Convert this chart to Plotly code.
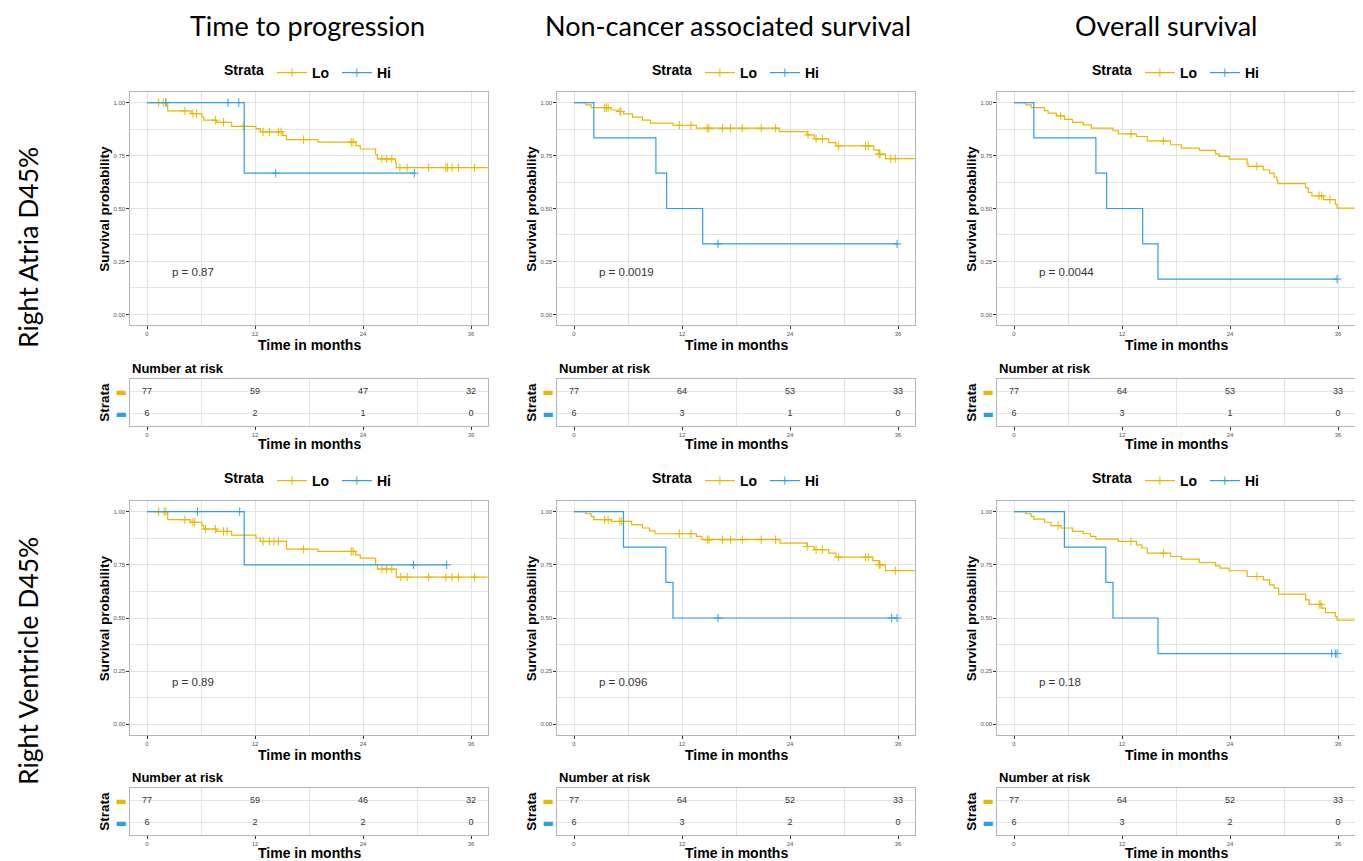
import numpy as np
import plotly.graph_objects as go

# page has an 8px body margin: figure is sized so that it fills the window exactly
OFF = 8
W, H = 1363 - OFF, 861 - OFF
LO_COLOR = "#E7B800"
HI_COLOR = "#2E9FDF"
GRID = "#E3E3E3"
BORDER = "#B5B5B5"
FONT = "Liberation Sans, Arial, sans-serif"
TITLE_FONT = "Lato, Open Sans, sans-serif"

col_titles = ["Time to progression", "Non-cancer associated survival", "Overall survival"]
row_titles = ["Right Atria D45%", "Right Ventricle D45%"]
strata = ["Lo", "Hi"]
time_ticks = [0, 12, 24, 36]
surv_ticks = [0.0, 0.25, 0.5, 0.75, 1.0]

# ---------------- Right Atria D45% : Time to progression ----------------
ra_ttp_lo_t = [0, 2.3, 4.9, 6.1, 6.3, 7.7, 9.4, 12.1, 12.6, 15.1, 15.5, 19.0, 23.2, 23.7, 25.4, 25.6, 27.6, 27.7]
ra_ttp_lo_s = [1.0, 0.961, 0.948, 0.932, 0.917, 0.907, 0.888, 0.877, 0.862, 0.845, 0.825, 0.813, 0.797, 0.781, 0.755, 0.734, 0.715, 0.693]
ra_ttp_lo_end = 38.0
ra_ttp_lo_cens = [1.3, 1.8, 2.1, 4.2, 5.1, 5.5, 7.6, 8.5, 10.7, 12.9, 13.6, 14.6, 14.9, 17.4, 22.7, 22.9,
                  26.1, 26.6, 27.2, 28.1, 28.9, 31.3, 33.2, 33.4, 33.9, 34.6, 36.4]
ra_ttp_hi_t = [0, 10.8]
ra_ttp_hi_s = [1.0, 0.667]
ra_ttp_hi_end = 29.7
ra_ttp_hi_cens = [2.1, 9.0, 10.2, 14.3, 29.7]
ra_ttp_p = "p = 0.87"
ra_ttp_risk_lo = [77, 59, 47, 32]
ra_ttp_risk_hi = [6, 2, 1, 0]

# ---------------- Right Atria D45% : Non-cancer associated survival ----------------
ra_ncas_lo_t = [0, 1.3, 1.9, 4.1, 4.9, 5.5, 6.5, 7.6, 8.5, 11.0, 13.6, 22.8, 25.9, 26.7, 28.3, 29.1, 33.3, 33.9, 34.6]
ra_ncas_lo_s = [1.0, 0.989, 0.976, 0.965, 0.958, 0.947, 0.931, 0.917, 0.903, 0.893, 0.879, 0.863, 0.848, 0.829,
                0.811, 0.796, 0.777, 0.757, 0.735]
ra_ncas_lo_end = 38.0
ra_ncas_lo_cens = [3.4, 3.6, 3.8, 5.1, 5.2, 11.7, 13.0, 14.8, 15.0, 16.5, 17.4, 18.7, 20.8, 22.4, 26.0, 26.9,
                   27.6, 29.4, 32.4, 32.7, 33.9, 34.0, 35.2, 35.7]
ra_ncas_hi_t = [0, 2.2, 9.1, 10.3, 14.3]
ra_ncas_hi_s = [1.0, 0.833, 0.667, 0.5, 0.333]
ra_ncas_hi_end = 35.9
ra_ncas_hi_cens = [16.0, 35.9]
ra_ncas_p = "p = 0.0019"
ra_ncas_risk_lo = [77, 64, 53, 33]
ra_ncas_risk_hi = [6, 3, 1, 0]

# ---------------- Right Atria D45% : Overall survival ----------------
ra_os_lo_t = [0, 1.3, 1.9, 3.4, 3.8, 4.7, 5.6, 6.5, 7.7, 8.6, 11.0, 11.6, 13.6, 14.8, 17.4, 18.6, 20.6, 22.4,
              22.8, 23.9, 25.9, 26.0, 27.7, 28.4, 28.9, 29.2, 29.3, 32.4, 32.7, 33.1, 34.4, 35.7, 35.9]
ra_os_lo_s = [1.0, 0.989, 0.976, 0.962, 0.950, 0.937, 0.921, 0.907, 0.895, 0.879, 0.867, 0.852, 0.840, 0.819,
              0.801, 0.785, 0.774, 0.758, 0.746, 0.733, 0.714, 0.699, 0.683, 0.667, 0.648, 0.633, 0.617, 0.597,
              0.576, 0.560, 0.542, 0.521, 0.502]
ra_os_lo_end = 38.0
ra_os_lo_cens = [5.2, 13.0, 16.6, 27.0, 33.9, 34.2, 35.1]
ra_os_hi_t = [0, 2.2, 9.1, 10.3, 14.3, 16.0]
ra_os_hi_s = [1.0, 0.833, 0.667, 0.5, 0.333, 0.167]
ra_os_hi_end = 35.9
ra_os_hi_cens = [35.9]
ra_os_p = "p = 0.0044"
ra_os_risk_lo = [77, 64, 53, 33]
ra_os_risk_hi = [6, 3, 1, 0]

# ---------------- Right Ventricle D45% : Time to progression ----------------
rv_ttp_lo_t = [0, 2.3, 4.8, 6.1, 6.3, 7.7, 9.4, 12.1, 12.6, 15.5, 19.0, 23.2, 23.7, 25.4, 25.6, 27.7]
rv_ttp_lo_s = [1.0, 0.962, 0.950, 0.934, 0.918, 0.907, 0.890, 0.876, 0.860, 0.824, 0.813, 0.797, 0.781, 0.750,
               0.730, 0.692]
rv_ttp_lo_end = 38.0
rv_ttp_lo_cens = [1.3, 1.9, 2.1, 4.2, 5.1, 5.3, 6.5, 7.6, 8.5, 8.9, 12.9, 13.6, 14.1, 14.6, 17.4, 22.7, 22.9,
                  26.1, 26.6, 27.2, 28.2, 28.9, 31.3, 33.2, 33.9, 34.6, 36.4]
rv_ttp_hi_t = [0, 10.8]
rv_ttp_hi_s = [1.0, 0.75]
rv_ttp_hi_end = 33.3
rv_ttp_hi_cens = [5.6, 10.3, 29.6, 33.3]
rv_ttp_p = "p = 0.89"
rv_ttp_risk_lo = [77, 59, 46, 32]
rv_ttp_risk_hi = [6, 2, 2, 0]

# ---------------- Right Ventricle D45% : Non-cancer associated survival ----------------
rv_ncas_lo_t = [0, 1.3, 1.9, 2.2, 4.1, 6.4, 7.6, 8.4, 9.0, 13.6, 14.2, 22.9, 25.9, 26.7, 28.3, 29.1, 33.2, 33.9, 34.6]
rv_ncas_lo_s = [1.0, 0.990, 0.978, 0.962, 0.954, 0.939, 0.923, 0.910, 0.896, 0.884, 0.868, 0.852, 0.836, 0.821,
                0.805, 0.786, 0.770, 0.750, 0.723]
rv_ncas_lo_end = 38.0
rv_ncas_lo_cens = [3.4, 3.8, 5.1, 5.3, 11.7, 13.0, 14.8, 15.0, 16.5, 17.4, 18.7, 20.8, 22.4, 25.9, 26.9, 27.6,
                   29.4, 32.4, 32.7, 33.9, 34.0, 35.7]
rv_ncas_hi_t = [0, 5.5, 10.2, 11.0]
rv_ncas_hi_s = [1.0, 0.833, 0.667, 0.5]
rv_ncas_hi_end = 35.9
rv_ncas_hi_cens = [16.0, 35.3, 35.9]
rv_ncas_p = "p = 0.096"
rv_ncas_risk_lo = [77, 64, 52, 33]
rv_ncas_risk_hi = [6, 3, 2, 0]

# ---------------- Right Ventricle D45% : Overall survival ----------------
rv_os_lo_t = [0, 1.3, 1.9, 2.2, 3.4, 4.1, 5.2, 6.5, 7.7, 8.5, 9.1, 11.6, 13.6, 14.2, 14.8, 17.4, 18.6, 20.6,
              22.4, 22.9, 23.9, 25.9, 27.7, 28.4, 28.9, 29.4, 32.4, 32.8, 34.2, 34.6, 35.7, 35.9]
rv_os_lo_s = [1.0, 0.990, 0.978, 0.965, 0.950, 0.934, 0.923, 0.907, 0.896, 0.884, 0.871, 0.860, 0.844, 0.829,
              0.805, 0.789, 0.777, 0.761, 0.745, 0.734, 0.722, 0.695, 0.679, 0.656, 0.640, 0.612, 0.585, 0.564,
              0.546, 0.525, 0.506, 0.490]
rv_os_lo_end = 38.0
rv_os_lo_cens = [4.9, 13.0, 16.6, 27.0, 33.9, 34.1]
rv_os_hi_t = [0, 5.6, 10.2, 11.0, 16.0]
rv_os_hi_s = [1.0, 0.833, 0.667, 0.5, 0.333]
rv_os_hi_end = 35.9
rv_os_hi_cens = [35.3, 35.7, 35.9]
rv_os_p = "p = 0.18"
rv_os_risk_lo = [77, 64, 52, 33]
rv_os_risk_hi = [6, 3, 2, 0]

panels = [
    dict(row=0, col=0, lo=(ra_ttp_lo_t, ra_ttp_lo_s, ra_ttp_lo_end, ra_ttp_lo_cens),
         hi=(ra_ttp_hi_t, ra_ttp_hi_s, ra_ttp_hi_end, ra_ttp_hi_cens), p=ra_ttp_p,
         risk=(ra_ttp_risk_lo, ra_ttp_risk_hi)),
    dict(row=0, col=1, lo=(ra_ncas_lo_t, ra_ncas_lo_s, ra_ncas_lo_end, ra_ncas_lo_cens),
         hi=(ra_ncas_hi_t, ra_ncas_hi_s, ra_ncas_hi_end, ra_ncas_hi_cens), p=ra_ncas_p,
         risk=(ra_ncas_risk_lo, ra_ncas_risk_hi)),
    dict(row=0, col=2, lo=(ra_os_lo_t, ra_os_lo_s, ra_os_lo_end, ra_os_lo_cens),
         hi=(ra_os_hi_t, ra_os_hi_s, ra_os_hi_end, ra_os_hi_cens), p=ra_os_p,
         risk=(ra_os_risk_lo, ra_os_risk_hi)),
    dict(row=1, col=0, lo=(rv_ttp_lo_t, rv_ttp_lo_s, rv_ttp_lo_end, rv_ttp_lo_cens),
         hi=(rv_ttp_hi_t, rv_ttp_hi_s, rv_ttp_hi_end, rv_ttp_hi_cens), p=rv_ttp_p,
         risk=(rv_ttp_risk_lo, rv_ttp_risk_hi)),
    dict(row=1, col=1, lo=(rv_ncas_lo_t, rv_ncas_lo_s, rv_ncas_lo_end, rv_ncas_lo_cens),
         hi=(rv_ncas_hi_t, rv_ncas_hi_s, rv_ncas_hi_end, rv_ncas_hi_cens), p=rv_ncas_p,
         risk=(rv_ncas_risk_lo, rv_ncas_risk_hi)),
    dict(row=1, col=2, lo=(rv_os_lo_t, rv_os_lo_s, rv_os_lo_end, rv_os_lo_cens),
         hi=(rv_os_hi_t, rv_os_hi_s, rv_os_hi_end, rv_os_hi_cens), p=rv_os_p,
         risk=(rv_os_risk_lo, rv_os_risk_hi)),
]

# ---------------- layout geometry (screen pixels) ----------------
X_RANGE = [-1.85, 37.85]
PX_PER_MONTH = 9.0
col_x0 = [147, 574, 1014]          # screen pixel of t = 0 in each column
surv_top = [92, 501]
surv_bot = [325, 735]
risk_top = [379, 788]
risk_bot = [426, 835]
legend_y = [73, 481]
legend_x = [312, 740, 1180]
col_title_x = [307, 728, 1166]
row_title_y = [248, 661]


def fx(p):
    return (p - OFF) / W


def fy(p):
    return 1 - (p - OFF) / H


def step_value(t, s, x):
    idx = np.searchsorted(np.asarray(t), np.asarray(x), side="right") - 1
    return np.asarray(s)[idx]


fig = go.Figure()
layout = dict(
    width=W, height=H, margin=dict(l=0, r=0, t=0, b=0),
    paper_bgcolor="white", plot_bgcolor="white",
    showlegend=True, font=dict(family=FONT, color="black"),
)
annotations = []
CENS_MARK = dict(symbol="cross-thin", size=6)

for k, p in enumerate(panels):
    r, c = p["row"], p["col"]
    sx = "" if k == 0 else str(k + 1)
    rk = str(k + 7)
    xa, ya = "x" + sx, "y" + sx
    xr, yr = "x" + rk, "y" + rk
    legname = "legend" + sx

    left = col_x0[c] + X_RANGE[0] * PX_PER_MONTH
    right = col_x0[c] + X_RANGE[1] * PX_PER_MONTH
    xdom = [fx(left), fx(right)]

    # --- survival curves ---
    for (t, s, end, cens), name, color in [(p["lo"], "Lo", LO_COLOR), (p["hi"], "Hi", HI_COLOR)]:
        fig.add_trace(go.Scatter(
            x=list(t) + [end], y=list(s) + [s[-1]], mode="lines", line_shape="hv",
            line=dict(color=color, width=1.2), xaxis=xa, yaxis=ya, showlegend=False,
            hoverinfo="skip"))
        fig.add_trace(go.Scatter(
            x=cens, y=step_value(t, s, cens), mode="markers",
            marker=dict(**CENS_MARK, line=dict(color=color, width=1)),
            xaxis=xa, yaxis=ya, showlegend=False, hoverinfo="skip"))
    # legend entries
    for name, color in [("Lo", LO_COLOR), ("Hi", HI_COLOR)]:
        fig.add_trace(go.Scatter(
            x=[None], y=[None], mode="lines+markers", name="<b>" + name + "</b>",
            line=dict(color=color, width=1.2),
            marker=dict(**CENS_MARK, line=dict(color=color, width=1)),
            xaxis=xa, yaxis=ya, legend=legname, showlegend=True))

    layout[legname] = dict(
        orientation="h", x=fx(legend_x[c]), y=fy(legend_y[r]), xanchor="center", yanchor="middle",
        title=dict(text="<b>Strata</b>", side="left", font=dict(size=14, family=FONT, color="black")),
        font=dict(size=14, family=FONT, color="black"), bgcolor="rgba(0,0,0,0)",
        itemwidth=30, tracegroupgap=0, entrywidth=20, itemclick=False)

    layout["xaxis" + sx] = dict(
        domain=xdom, anchor=ya, range=X_RANGE, tickmode="array", tickvals=time_ticks,
        ticks="outside", ticklen=3, tickwidth=1, tickcolor="#333333",
        tickfont=dict(size=6, color="#555555", family=FONT),
        showgrid=True, gridcolor=GRID, gridwidth=1,
        minor=dict(tickmode="array", tickvals=[6, 18, 30], showgrid=True, gridcolor=GRID, gridwidth=1, ticks=""),
        showline=True, linecolor=BORDER, linewidth=1, mirror=True, zeroline=False, fixedrange=True)
    layout["yaxis" + sx] = dict(
        domain=[fy(surv_bot[r]), fy(surv_top[r])], anchor=xa, range=[-0.05, 1.05],
        tickmode="array", tickvals=surv_ticks, tickformat=".2f",
        ticks="outside", ticklen=3, tickwidth=1, tickcolor="#333333",
        tickfont=dict(size=6, color="#555555", family=FONT),
        showgrid=True, gridcolor=GRID, gridwidth=1.3,
        minor=dict(tickmode="array", tickvals=[0.125, 0.375, 0.625, 0.875], showgrid=True,
                   gridcolor=GRID, gridwidth=1, ticks=""),
        showline=True, linecolor=BORDER, linewidth=1, mirror=True, zeroline=False, fixedrange=True)

    # p-value
    annotations.append(dict(text=p["p"], x=2.6, y=0.2, xref=xa, yref=ya, xanchor="left", yanchor="middle",
                            showarrow=False, font=dict(size=11.5, color="#333333", family=FONT)))

    # --- risk table ---
    risk_lo, risk_hi = p["risk"]
    for vals, yv in [(risk_lo, 1), (risk_hi, 0)]:
        fig.add_trace(go.Scatter(
            x=time_ticks, y=[yv] * len(time_ticks), mode="text", text=[str(v) for v in vals],
            textfont=dict(size=9, color="#333333", family=FONT), textposition="middle center",
            xaxis=xr, yaxis=yr, showlegend=False, hoverinfo="skip"))
    layout["xaxis" + rk] = dict(
        domain=xdom, anchor=yr, range=X_RANGE, tickmode="array", tickvals=time_ticks,
        ticks="outside", ticklen=3, tickwidth=1, tickcolor="#333333",
        tickfont=dict(size=6, color="#555555", family=FONT),
        showgrid=False,
        minor=dict(tickmode="array", tickvals=[6, 18, 30], showgrid=True, gridcolor=GRID, gridwidth=1, ticks=""),
        showline=True, linecolor=BORDER, linewidth=1, mirror=True, zeroline=False, fixedrange=True)
    layout["yaxis" + rk] = dict(
        domain=[fy(risk_bot[r]), fy(risk_top[r])], anchor=xr, range=[-0.55, 1.59],
        tickmode="array", tickvals=[1, 0],
        ticktext=["<span style='color:%s'><b>▬</b></span>" % LO_COLOR,
                  "<span style='color:%s'><b>▬</b></span>" % HI_COLOR],
        tickfont=dict(size=12, family="DejaVu Sans"), ticks="",
        showgrid=True, gridcolor=GRID, gridwidth=1.3,
        showline=True, linecolor=BORDER, linewidth=1, mirror=True, zeroline=False, fixedrange=True)

    # axis titles
    annotations.append(dict(text="<b>Survival probability</b>", x=fx(left - 26), y=fy((surv_top[r] + surv_bot[r]) / 2),
                            xref="paper", yref="paper", textangle=-90, showarrow=False,
                            xanchor="center", yanchor="middle", font=dict(size=13.5, family=FONT)))
    annotations.append(dict(text="<b>Time in months</b>", x=fx((left + right) / 2), y=fy(surv_bot[r] + 20),
                            xref="paper", yref="paper", showarrow=False,
                            xanchor="center", yanchor="middle", font=dict(size=14, family=FONT)))
    annotations.append(dict(text="<b>Number at risk</b>", x=fx(left), y=fy(risk_top[r] - 11),
                            xref="paper", yref="paper", showarrow=False,
                            xanchor="left", yanchor="middle", font=dict(size=13, family=FONT)))
    annotations.append(dict(text="<b>Strata</b>", x=fx(left - 26), y=fy((risk_top[r] + risk_bot[r]) / 2),
                            xref="paper", yref="paper", textangle=-90, showarrow=False,
                            xanchor="center", yanchor="middle", font=dict(size=13.5, family=FONT)))
    annotations.append(dict(text="<b>Time in months</b>", x=fx((left + right) / 2), y=fy(risk_bot[r] + 18),
                            xref="paper", yref="paper", showarrow=False,
                            xanchor="center", yanchor="middle", font=dict(size=14, family=FONT)))

for c, t in enumerate(col_titles):
    annotations.append(dict(text=t, x=fx(col_title_x[c]), y=1.0, xref="paper", yref="paper",
                            showarrow=False, xanchor="center", yanchor="top", borderpad=0,
                            font=dict(size=27, family=TITLE_FONT, color="black")))
for r, t in enumerate(row_titles):
    annotations.append(dict(text=t, x=fx(28), y=fy(row_title_y[r]), xref="paper", yref="paper",
                            showarrow=False, xanchor="center", yanchor="middle", textangle=-90,
                            font=dict(size=26.5, family=TITLE_FONT, color="black")))

layout["annotations"] = annotations
fig.update_layout(**layout)
fig.write_html("out.html")
